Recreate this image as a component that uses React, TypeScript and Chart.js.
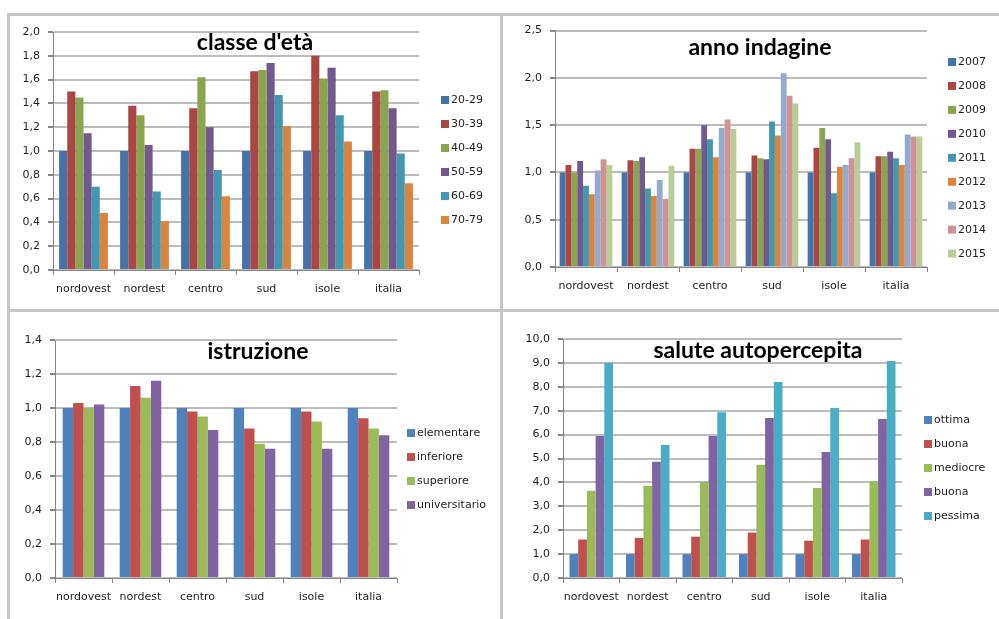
import { useEffect, useRef } from "react";
import { Chart, registerables } from "chart.js";

Chart.register(...registerables);
Chart.defaults.font.family = "'DejaVu Sans', Verdana, sans-serif";

// ---- shared categories ----
const regions = ["nordovest", "nordest", "centro", "sud", "isole", "italia"];

// ---- classe d'età ----
const ageClasses = ["20-29", "30-39", "40-49", "50-59", "60-69", "70-79"];
const age20_29 = [1.0, 1.0, 1.0, 1.0, 1.0, 1.0];
const age30_39 = [1.5, 1.38, 1.36, 1.67, 1.8, 1.5];
const age40_49 = [1.45, 1.3, 1.62, 1.68, 1.61, 1.51];
const age50_59 = [1.15, 1.05, 1.2, 1.74, 1.7, 1.36];
const age60_69 = [0.7, 0.66, 0.84, 1.47, 1.3, 0.98];
const age70_79 = [0.48, 0.41, 0.62, 1.21, 1.08, 0.73];

// ---- anno indagine ----
const surveyYears = ["2007", "2008", "2009", "2010", "2011", "2012", "2013", "2014", "2015"];
const y2007 = [1.0, 1.0, 1.0, 1.0, 1.0, 1.0];
const y2008 = [1.08, 1.13, 1.25, 1.18, 1.26, 1.17];
const y2009 = [1.0, 1.12, 1.25, 1.15, 1.47, 1.17];
const y2010 = [1.12, 1.16, 1.5, 1.14, 1.35, 1.22];
const y2011 = [0.86, 0.83, 1.35, 1.54, 0.78, 1.15];
const y2012 = [0.77, 0.75, 1.16, 1.39, 1.06, 1.08];
const y2013 = [1.02, 0.92, 1.47, 2.05, 1.08, 1.4];
const y2014 = [1.14, 0.72, 1.56, 1.81, 1.15, 1.38];
const y2015 = [1.08, 1.07, 1.46, 1.73, 1.32, 1.38];

// ---- istruzione ----
const eduLevels = ["elementare", "inferiore", "superiore", "universitario"];
const eduElementare = [1.0, 1.0, 1.0, 1.0, 1.0, 1.0];
const eduInferiore = [1.03, 1.13, 0.98, 0.88, 0.98, 0.94];
const eduSuperiore = [1.0, 1.06, 0.95, 0.79, 0.92, 0.88];
const eduUniversitario = [1.02, 1.16, 0.87, 0.76, 0.76, 0.84];

// ---- salute autopercepita ----
const healthLevels = ["ottima", "buona", "mediocre", "buona", "pessima"];
const hOttima = [1.0, 1.0, 1.0, 1.0, 1.0, 1.0];
const hBuona = [1.61, 1.68, 1.73, 1.9, 1.56, 1.61];
const hMediocre = [3.65, 3.86, 4.02, 4.74, 3.77, 4.05];
const hBuona2 = [5.94, 4.86, 5.94, 6.69, 5.27, 6.65];
const hPessima = [9.01, 5.56, 6.94, 8.2, 7.11, 9.08];

// ---- palettes ----
const darkPalette = [
  "#4572A7", "#AA4643", "#89A54E", "#71588F", "#4198AF",
  "#DB843D", "#93A9CF", "#D19392", "#B9CD96",
];
const brightPalette = ["#4F81BD", "#C0504D", "#9BBB59", "#8064A2", "#4BACC6"];

const AXIS_GREY = "#868686";
const GRID_GREY = "#bcbcbc";
const TEXT = "#1e1e1e";

// Title over the plot and a hand-laid legend column on the right
const panelDecor = {
  id: "panelDecor",
  afterDraw(chart: any, _args: any, opts: any) {
    const ctx = chart.ctx;
    ctx.save();
    ctx.fillStyle = "#000";
    ctx.font = "bold 23px Lato, 'Open Sans', sans-serif";
    ctx.textAlign = "center";
    ctx.textBaseline = "middle";
    ctx.fillText(opts.title, opts.titleX, opts.titleY);

    ctx.font = "11px 'DejaVu Sans', Verdana, sans-serif";
    ctx.textAlign = "left";
    chart.data.datasets.forEach((ds: any, i: number) => {
      const y = opts.legendY + i * opts.legendStep;
      ctx.fillStyle = ds.backgroundColor;
      ctx.fillRect(opts.legendX, y - 4, 8, 8);
      ctx.fillStyle = TEXT;
      ctx.fillText(ds.label, opts.legendX + 10, y + 0.5);
    });
    ctx.restore();
  },
};

type PanelSpec = {
  left: number;
  top: number;
  width: number;
  height: number;
  area: { l: number; r: number; t: number; b: number };
  title: string;
  titleX: number;
  titleY: number;
  names: string[];
  series: number[][];
  colors: string[];
  yMax: number;
  yStep: number;
  catPct: number;
  legendX: number;
  legendY: number;
  legendStep: number;
};

function buildConfig(s: PanelSpec): any {
  return {
    type: "bar",
    data: {
      labels: regions,
      datasets: s.series.map((values, i) => ({
        label: s.names[i],
        data: values,
        backgroundColor: s.colors[i],
        borderWidth: 0,
        barPercentage: 1.0,
        categoryPercentage: s.catPct,
      })),
    },
    options: {
      animation: false,
      responsive: false,
      events: [],
      layout: {
        padding: { top: s.area.t, right: s.width - s.area.r, left: 0, bottom: 0 },
      },
      plugins: {
        legend: { display: false },
        title: { display: false },
        tooltip: { enabled: false },
        panelDecor: {
          title: s.title,
          titleX: s.titleX,
          titleY: s.titleY,
          legendX: s.legendX,
          legendY: s.legendY,
          legendStep: s.legendStep,
        },
      },
      scales: {
        x: {
          grid: {
            offset: true,
            drawOnChartArea: false,
            drawTicks: true,
            tickLength: 5,
            color: AXIS_GREY,
          },
          border: { color: AXIS_GREY, width: 1 },
          ticks: {
            color: TEXT,
            font: { size: 11 },
            padding: 8,
            maxRotation: 0,
            autoSkip: false,
          },
          afterFit: (scale: any) => {
            scale.height = s.height - s.area.b;
          },
        },
        y: {
          min: 0,
          max: s.yMax,
          ticks: {
            stepSize: s.yStep,
            color: TEXT,
            font: { size: 11 },
            padding: 8,
            callback: (v: any) => Number(v).toFixed(1).replace(".", ","),
          },
          grid: {
            color: GRID_GREY,
            lineWidth: 2,
            tickLength: 5,
            tickColor: AXIS_GREY,
          },
          border: { color: AXIS_GREY, width: 1 },
          afterFit: (scale: any) => {
            scale.width = s.area.l;
          },
        },
      },
    },
    plugins: [panelDecor],
  };
}

function Panel({ spec }: { spec: PanelSpec }) {
  const ref = useRef<HTMLCanvasElement | null>(null);
  useEffect(() => {
    if (!ref.current) return;
    const chart = new Chart(ref.current, buildConfig(spec));
    return () => chart.destroy();
  }, [spec]);
  return (
    <canvas
      ref={ref}
      width={spec.width}
      height={spec.height}
      style={{
        position: "absolute",
        left: spec.left,
        top: spec.top,
        width: spec.width,
        height: spec.height,
        display: "block",
      }}
    />
  );
}

const panels: PanelSpec[] = [
  {
    left: 10, top: 16, width: 490, height: 293,
    area: { l: 43, r: 409, t: 16, b: 254 },
    title: "classe d'età", titleX: 245, titleY: 27,
    names: ageClasses,
    series: [age20_29, age30_39, age40_49, age50_59, age60_69, age70_79],
    colors: darkPalette.slice(0, 6),
    yMax: 2.0, yStep: 0.2, catPct: 0.8,
    legendX: 431, legendY: 84, legendStep: 24,
  },
  {
    left: 503, top: 16, width: 496, height: 293,
    area: { l: 52, r: 424, t: 12, b: 251 },
    title: "anno indagine", titleX: 257, titleY: 32,
    names: surveyYears,
    series: [y2007, y2008, y2009, y2010, y2011, y2012, y2013, y2014, y2015],
    colors: darkPalette,
    yMax: 2.5, yStep: 0.5, catPct: 0.85,
    legendX: 445, legendY: 46, legendStep: 23.95,
  },
  {
    left: 10, top: 312, width: 490, height: 307,
    area: { l: 45, r: 387, t: 28, b: 266 },
    title: "istruzione", titleX: 248, titleY: 40,
    names: eduLevels,
    series: [eduElementare, eduInferiore, eduSuperiore, eduUniversitario],
    colors: brightPalette.slice(0, 4),
    yMax: 1.4, yStep: 0.2, catPct: 0.73,
    legendX: 397, legendY: 121, legendStep: 24,
  },
  {
    left: 503, top: 312, width: 496, height: 307,
    area: { l: 60, r: 399, t: 27, b: 266 },
    title: "salute autopercepita", titleX: 255, titleY: 39,
    names: healthLevels,
    series: [hOttima, hBuona, hMediocre, hBuona2, hPessima],
    colors: brightPalette,
    yMax: 10, yStep: 1, catPct: 0.77,
    legendX: 421, legendY: 108, legendStep: 24,
  },
];

const FRAME = "#c8c8c8";
const frameLines = [
  { left: 7, top: 13, width: 992, height: 3 },
  { left: 7, top: 13, width: 3, height: 606 },
  { left: 500, top: 13, width: 3, height: 606 },
  { left: 7, top: 309, width: 992, height: 3 },
];

export default function App() {
  return (
    <div
      style={{
        position: "absolute",
        left: 0,
        top: 0,
        width: 999,
        height: 619,
        background: "#fff",
        overflow: "hidden",
      }}
    >
      {frameLines.map((f, i) => (
        <div key={i} style={{ position: "absolute", background: FRAME, ...f }} />
      ))}
      {panels.map((p, i) => (
        <Panel key={i} spec={p} />
      ))}
    </div>
  );
}
